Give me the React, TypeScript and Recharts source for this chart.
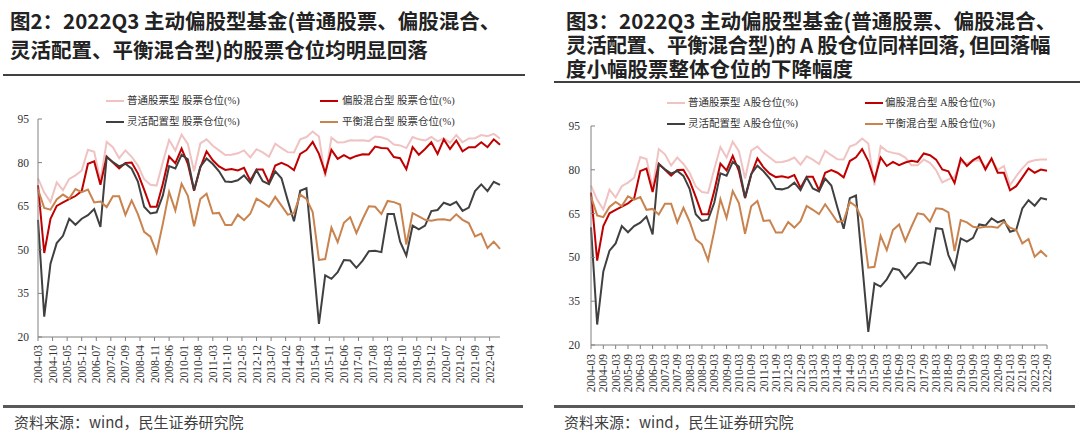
import React from 'react';
import { LineChart, Line, XAxis, YAxis } from 'recharts';

// ---- categories (quarter ends) ----
const quarters = [
  '2004-03','2004-06','2004-09','2004-12','2005-03','2005-06','2005-09','2005-12',
  '2006-03','2006-06','2006-09','2006-12','2007-03','2007-06','2007-09','2007-12',
  '2008-03','2008-06','2008-09','2008-12','2009-03','2009-06','2009-09','2009-12',
  '2010-03','2010-06','2010-09','2010-12','2011-03','2011-06','2011-09','2011-12',
  '2012-03','2012-06','2012-09','2012-12','2013-03','2013-06','2013-09','2013-12',
  '2014-03','2014-06','2014-09','2014-12','2015-03','2015-06','2015-09','2015-12',
  '2016-03','2016-06','2016-09','2016-12','2017-03','2017-06','2017-09','2017-12',
  '2018-03','2018-06','2018-09','2018-12','2019-03','2019-06','2019-09','2019-12',
  '2020-03','2020-06','2020-09','2020-12','2021-03','2021-06','2021-09','2021-12',
  '2022-03','2022-06','2022-09',
];

// ---- left chart tick labels (every 7 months) ----
const leftTickLabels = [
  '2004-03','2004-10','2005-05','2005-12','2006-07','2007-02','2007-09','2008-04',
  '2008-11','2009-06','2010-01','2010-08','2011-03','2011-10','2012-05','2012-12',
  '2013-07','2014-02','2014-09','2015-04','2015-11','2016-06','2017-01','2017-08',
  '2018-03','2018-10','2019-05','2019-12','2020-07','2021-02','2021-09','2022-04',
];

const yTicks = [20, 35, 50, 65, 80, 95];

// ---- left chart: stock position (%) ----
const stockFundTotal = [
  74.6, 69.7, 66.4, 73.2, 70.5, 74.4, 75.6, 77.3, 84.4, 83.7,
  73.8, 87.1, 85.3, 81.5, 84.2, 82.0, 79.0, 74.3, 72.4, 72.1,
  80.2, 87.8, 84.2, 89.6, 86.4, 77.0, 86.6, 88.0, 85.8, 84.2,
  82.6, 82.7, 83.2, 84.2, 81.8, 84.6, 83.5, 82.0, 86.5, 85.0,
  83.6, 83.5, 88.0, 88.8, 90.7, 89.0, 75.0, 88.6, 86.9, 87.0,
  87.7, 87.6, 87.7, 87.4, 89.0, 88.7, 88.0, 86.2, 85.9, 85.0,
  88.8, 88.0, 87.6, 88.8, 87.3, 88.4, 86.8, 89.5, 87.0, 88.3,
  88.4, 89.5, 89.1, 89.9, 88.3,
];
const equityHybridTotal = [
  72.2, 48.9, 60.7, 65.1, 66.3, 67.4, 68.5, 70.2, 79.6, 80.4,
  72.4, 82.1, 80.0, 78.0, 79.9, 80.0, 76.3, 70.7, 64.8, 64.8,
  72.7, 82.1, 79.8, 84.8, 79.6, 70.3, 78.3, 83.9, 80.8, 78.7,
  77.5, 77.8, 77.3, 78.2, 73.8, 77.6, 77.6, 73.0, 79.0, 79.9,
  79.0, 77.4, 83.0, 84.3, 87.1, 83.0, 76.5, 84.4, 81.3, 82.6,
  81.4, 82.3, 82.9, 82.8, 85.5, 85.0, 84.9, 81.9, 81.5, 77.7,
  85.3, 82.7, 84.7, 87.0, 83.0, 88.0, 84.7, 87.6, 83.9, 85.3,
  85.3, 87.0, 85.3, 88.0, 86.1,
];
const flexibleTotal = [
  60.3, 27.0, 45.2, 52.3, 54.8, 60.7, 58.6, 60.7, 61.9, 64.0,
  57.9, 81.9, 80.2, 78.7, 79.6, 77.9, 73.5, 64.8, 62.5, 62.9,
  68.7, 78.8, 78.0, 82.7, 81.1, 70.5, 78.6, 81.4, 79.5, 77.0,
  73.5, 73.3, 73.9, 75.6, 73.0, 77.4, 73.6, 72.6, 77.0, 74.6,
  67.0, 59.8, 70.3, 71.2, 48.0, 24.5, 41.2, 40.0, 42.3, 46.5,
  46.3, 43.8, 46.3, 49.5, 49.7, 49.2, 62.3, 62.3, 52.8, 48.0,
  58.3, 57.0, 58.3, 63.3, 63.7, 66.2, 65.4, 66.5, 63.4, 64.5,
  70.2, 72.5, 70.2, 73.4, 72.3,
];
const balancedTotal = [
  70.8, 64.4, 63.8, 67.3, 69.0, 67.6, 70.9, 69.8, 70.7, 66.3,
  66.6, 64.7, 68.4, 68.4, 62.0, 67.0, 62.3, 56.2, 54.5, 49.0,
  59.0, 69.9, 63.5, 72.7, 68.6, 58.1, 67.5, 69.3, 62.5, 62.7,
  58.5, 58.5, 62.1, 60.2, 62.4, 67.6, 66.3, 64.8, 68.2, 65.2,
  62.1, 62.6, 69.0, 67.5, 63.0, 46.5, 46.8, 57.6, 52.6, 59.3,
  61.2, 55.7, 60.6, 65.0, 64.8, 62.3, 66.8, 66.4, 65.6, 51.8,
  62.6, 61.5, 60.3, 60.0, 60.4, 60.5, 60.1, 62.2, 60.3, 59.2,
  54.6, 55.6, 50.6, 52.8, 50.3,
];

// ---- right chart: A-share position (%) ----
const stockFundA = [
  74.6, 69.7, 66.4, 73.2, 70.5, 74.4, 75.6, 77.3, 84.4, 83.7,
  73.8, 87.1, 85.3, 81.5, 84.2, 82.0, 79.0, 74.3, 72.4, 72.1,
  80.2, 87.8, 84.2, 89.6, 86.4, 77.0, 86.6, 88.0, 85.8, 84.2,
  82.6, 82.7, 83.2, 84.2, 81.8, 84.6, 83.5, 82.0, 86.5, 85.0,
  83.6, 83.5, 88.0, 88.8, 90.7, 89.0, 74.7, 88.1, 86.4, 85.8,
  85.4, 84.2, 81.6, 81.6, 83.5, 82.4, 79.9, 75.7, 76.7, 77.6,
  82.7, 82.2, 83.1, 83.3, 81.0, 83.5, 79.9, 81.3, 74.7, 77.8,
  80.5, 82.7, 83.3, 83.5, 83.5,
];
const equityHybridA = [
  72.2, 48.9, 60.7, 65.1, 66.3, 67.4, 68.5, 70.2, 79.6, 80.4,
  72.4, 82.1, 80.0, 78.0, 79.9, 80.0, 76.3, 70.7, 64.8, 64.8,
  72.7, 82.1, 79.8, 84.8, 79.6, 70.3, 78.3, 83.9, 80.8, 78.7,
  77.5, 77.8, 77.3, 78.2, 73.8, 77.6, 77.6, 73.0, 79.0, 79.9,
  79.0, 77.4, 83.0, 84.3, 87.1, 83.0, 76.5, 84.2, 81.3, 82.7,
  81.6, 82.5, 83.1, 82.7, 85.6, 85.0, 83.5, 80.1, 79.5, 75.5,
  83.9, 81.3, 83.3, 84.5, 80.1, 83.9, 79.0, 79.0, 73.0, 74.4,
  77.4, 80.5, 79.0, 80.1, 79.7,
];
const flexibleA = [
  60.3, 27.0, 45.2, 52.3, 54.8, 60.7, 58.6, 60.7, 61.9, 64.0,
  57.9, 81.9, 80.2, 78.7, 79.6, 77.9, 73.5, 64.8, 62.5, 62.9,
  68.7, 78.8, 78.0, 82.7, 81.1, 70.5, 78.6, 81.4, 79.5, 77.0,
  73.5, 73.3, 73.9, 75.6, 73.0, 77.4, 73.6, 72.6, 77.0, 74.6,
  67.0, 59.8, 70.3, 71.2, 48.0, 24.5, 41.1, 40.0, 42.5, 46.2,
  45.7, 42.8, 45.1, 48.0, 48.3, 47.6, 60.0, 59.7, 50.8, 46.2,
  56.5, 55.4, 56.7, 61.3, 60.9, 63.4, 62.0, 62.8, 58.8, 59.4,
  66.8, 69.6, 67.7, 70.3, 69.8,
];
const balancedA = [
  70.8, 64.4, 63.8, 67.3, 69.0, 67.6, 70.9, 69.8, 70.7, 66.3,
  66.6, 64.7, 68.4, 68.4, 62.0, 67.0, 62.3, 56.2, 54.5, 49.0,
  59.0, 69.9, 63.5, 72.7, 68.6, 58.1, 67.5, 69.3, 62.5, 62.7,
  58.5, 58.5, 62.1, 60.2, 62.4, 67.6, 66.3, 64.8, 68.2, 65.2,
  62.1, 62.6, 69.0, 67.5, 63.0, 46.5, 46.8, 57.4, 52.5, 59.4,
  61.3, 55.6, 60.5, 65.1, 64.7, 62.2, 66.8, 66.6, 65.4, 52.2,
  62.8, 62.0, 60.5, 60.2, 60.5, 60.5, 60.2, 62.2, 60.2, 59.4,
  54.8, 56.3, 50.2, 52.2, 50.2,
];

const leftLegend = ['普通股票型 股票仓位(%)', '偏股混合型 股票仓位(%)', '灵活配置型 股票仓位(%)', '平衡混合型 股票仓位(%)'];
const rightLegend = ['普通股票型 A股仓位(%)', '偏股混合型 A股仓位(%)', '灵活配置型 A股仓位(%)', '平衡混合型 A股仓位(%)'];

const leftTitle = ['图2：2022Q3 主动偏股型基金(普通股票、偏股混合、', '灵活配置、平衡混合型)的股票仓位均明显回落'];
const rightTitle = ['图3：2022Q3 主动偏股型基金(普通股票、偏股混合、', '灵活配置、平衡混合型)的 A 股仓位同样回落, 但回落幅', '度小幅股票整体仓位的下降幅度'];
const sourceText = '资料来源：wind，民生证券研究院';

// ---- styling ----
const COLORS = ['#F0C2C2', '#C00000', '#404040', '#C9834F'];
const SERIF = '"Liberation Serif", "Times New Roman", "Noto Sans CJK SC", serif';
const SANS = '"Noto Sans CJK SC", "Noto Sans", sans-serif';
const AXIS = '#808080';

const monthIndex = (s: string) => {
  const [y, m] = s.split('-').map(Number);
  return (y - 2004) * 12 + (m - 3);
};

const leftData = quarters.map((d, i) => ({
  d, m: monthIndex(d),
  s0: stockFundTotal[i], s1: equityHybridTotal[i], s2: flexibleTotal[i], s3: balancedTotal[i],
}));
const rightData = quarters.map((d, i) => ({
  d,
  s0: stockFundA[i], s1: equityHybridA[i], s2: flexibleA[i], s3: balancedA[i],
}));
const leftTicks = leftTickLabels.map(monthIndex);

function YTick(props: any) {
  const { x, y, payload, gap } = props;
  return (
    <g>
      <line x1={x + gap} x2={x + gap + 4} y1={y} y2={y} stroke={AXIS} strokeWidth={1} />
      <text x={x} y={y} textAnchor="end" dominantBaseline="central" fontFamily={SERIF} fontSize={11.5} fill="#333">
        {payload.value}
      </text>
    </g>
  );
}

function XTick(props: any) {
  const { x, y, label, gap } = props;
  return (
    <g>
      <line x1={x} x2={x} y1={y - gap} y2={y - gap + 4} stroke={AXIS} strokeWidth={1} />
      <text x={x} y={y} transform={`rotate(-90 ${x} ${y})`} textAnchor="end" dominantBaseline="central"
        fontFamily={SERIF} fontSize={11.5} fill="#333">
        {label}
      </text>
    </g>
  );
}

function Legend({ labels, items }: { labels: string[]; items: { sx: number; tx: number; y: number }[] }) {
  return (
    <>
      {items.map((it, i) => (
        <React.Fragment key={i}>
          <div style={{ position: 'absolute', left: it.sx, top: it.y - 1.25, width: 18, height: 2.5, background: COLORS[i] }} />
          <div style={{ position: 'absolute', left: it.tx, top: it.y - 8, height: 16, lineHeight: '16px', fontSize: 10.5, fontFamily: SERIF, color: '#333', whiteSpace: 'nowrap' }}>
            {labels[i]}
          </div>
        </React.Fragment>
      ))}
    </>
  );
}

function TitleLines({ lines, left, centers, spacing }: { lines: string[]; left: number; centers: number[]; spacing?: number[] }) {
  return (
    <>
      {lines.map((t, i) => (
        <div key={i} style={{ position: 'absolute', left, top: centers[i] - 11, height: 22, lineHeight: '22px', fontSize: 20.5, fontWeight: 700, fontFamily: SANS, color: '#222', whiteSpace: 'nowrap', letterSpacing: spacing ? spacing[i] : 0 }}>
          {t}
        </div>
      ))}
    </>
  );
}

function Rule({ x1, x2, y, h, color }: { x1: number; x2: number; y: number; h: number; color: string }) {
  return <div style={{ position: 'absolute', left: x1, top: y - h / 2, width: x2 - x1, height: h, background: color }} />;
}

function Source({ left }: { left: number }) {
  return (
    <div style={{ position: 'absolute', left, top: 411, height: 22, lineHeight: '22px', fontSize: 15, fontFamily: SANS, color: '#404040', whiteSpace: 'nowrap' }}>
      {sourceText}
    </div>
  );
}

export default function App() {
  const series = ['s0', 's1', 's2', 's3'];
  return (
    <div style={{ position: 'absolute', left: 0, top: 0, width: 1080, height: 432, background: '#fff', overflow: 'hidden' }}>
      {/* Left chart */}
      <div style={{ position: 'absolute', left: 0, top: 0 }}>
        <LineChart width={540} height={432} data={leftData} margin={{ top: 119, right: 40, bottom: 35, left: 8 }}>
          <XAxis dataKey="m" type="number" domain={[0, 222]} ticks={leftTicks} interval={0}
            axisLine={{ stroke: AXIS }} tickLine={false} tickSize={0} tickMargin={8} height={60}
            tick={(p: any) => <XTick {...p} gap={8} label={leftTickLabels[leftTicks.indexOf(p.payload.value)]} />} />
          <YAxis type="number" domain={[20, 95]} ticks={yTicks} interval={0} width={30}
            axisLine={{ stroke: AXIS }} tickLine={false} tickSize={0} tickMargin={9}
            tick={(p: any) => <YTick {...p} gap={9} />} />
          {series.map((k, i) => (
            <Line key={k} type="linear" dataKey={k} stroke={COLORS[i]} strokeWidth={2} dot={false} activeDot={false} isAnimationActive={false} />
          ))}
        </LineChart>
      </div>

      {/* Right chart */}
      <div style={{ position: 'absolute', left: 540, top: 0 }}>
        <LineChart width={540} height={432} data={rightData} margin={{ top: 126, right: 33, bottom: 27, left: 21 }}>
          <XAxis dataKey="d" interval={1}
            axisLine={{ stroke: AXIS }} tickLine={false} tickSize={0} tickMargin={9} height={60}
            tick={(p: any) => <XTick {...p} gap={9} label={p.payload.value} />} />
          <YAxis type="number" domain={[20, 95]} ticks={yTicks} interval={0} width={30}
            axisLine={{ stroke: AXIS }} tickLine={false} tickSize={0} tickMargin={11}
            tick={(p: any) => <YTick {...p} gap={11} />} />
          {series.map((k, i) => (
            <Line key={k} type="linear" dataKey={k} stroke={COLORS[i]} strokeWidth={2} dot={false} activeDot={false} isAnimationActive={false} />
          ))}
        </LineChart>
      </div>

      {/* Left panel decorations */}
      <TitleLines lines={leftTitle} left={10} centers={[20, 49]} />
      <Rule x1={3} x2={525} y={75} h={2} color="#404040" />
      <Legend labels={leftLegend} items={[
        { sx: 106, tx: 127, y: 101 }, { sx: 320, tx: 342, y: 101 },
        { sx: 106, tx: 127, y: 122 }, { sx: 320, tx: 342, y: 122 },
      ]} />
      <Rule x1={3} x2={523} y={406.5} h={2.5} color="#595959" />
      <Source left={14} />

      {/* Right panel decorations */}
      <TitleLines lines={rightTitle} left={566} centers={[19.5, 43.5, 67.5]} spacing={[0, -0.3, 0]} />
      <Rule x1={554} x2={1080} y={82} h={2} color="#404040" />
      <Legend labels={rightLegend} items={[
        { sx: 667, tx: 688, y: 103 }, { sx: 865, tx: 885, y: 103 },
        { sx: 667, tx: 688, y: 124 }, { sx: 865, tx: 885, y: 124 },
      ]} />
      <Rule x1={554} x2={1075} y={406.5} h={2.5} color="#595959" />
      <Source left={564} />
    </div>
  );
}
